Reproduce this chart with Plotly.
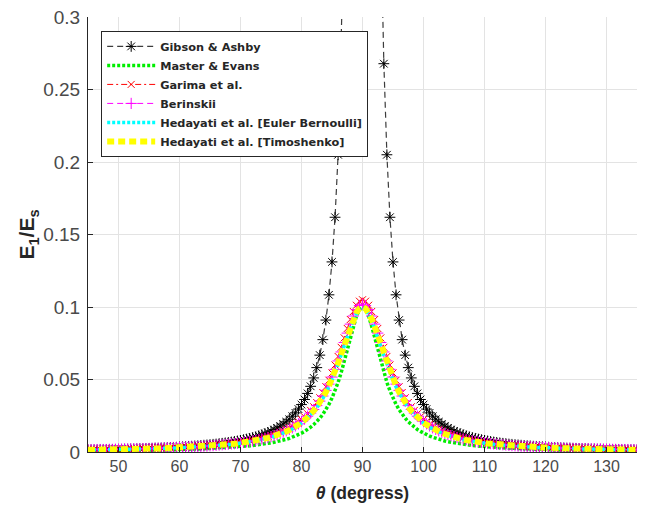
import plotly.graph_objects as go

# --- x grid: theta in degrees, 0.5 deg step from 45 to 135 ---
theta = [45 + 0.5 * i for i in range(181)]

# --- curves, 45..90 deg (they are symmetric about 90) ---
gibson_ashby = [
    0.0014, 0.0015, 0.0015, 0.0015, 0.0016, 0.0016, 0.0017, 0.0017, 0.0018, 0.0018,
    0.0019, 0.0019, 0.0020, 0.0020, 0.0021, 0.0021, 0.0022, 0.0023, 0.0023, 0.0024,
    0.0025, 0.0026, 0.0027, 0.0027, 0.0028, 0.0029, 0.0030, 0.0031, 0.0032, 0.0033,
    0.0035, 0.0036, 0.0037, 0.0039, 0.0040, 0.0042, 0.0043, 0.0045, 0.0047, 0.0049,
    0.0051, 0.0053, 0.0055, 0.0058, 0.0060, 0.0063, 0.0066, 0.0069, 0.0073, 0.0076,
    0.0080, 0.0085, 0.0089, 0.0094, 0.0100, 0.0105, 0.0112, 0.0119, 0.0127, 0.0135,
    0.0144, 0.0154, 0.0166, 0.0178, 0.0193, 0.0208, 0.0226, 0.0247, 0.0270, 0.0296,
    0.0327, 0.0362, 0.0404, 0.0453, 0.0511, 0.0582, 0.0668, 0.0775, 0.0910, 0.1084,
    0.1311, 0.1619, 0.2050, 0.2678, 0.3646, 0.525, 0.8205, 1.459, 3.283, 13.12,
    None,
]
master_evans = [
    0.0009, 0.0009, 0.0009, 0.0009, 0.0010, 0.0010, 0.0010, 0.0010, 0.0010, 0.0011,
    0.0011, 0.0011, 0.0011, 0.0011, 0.0012, 0.0012, 0.0012, 0.0013, 0.0013, 0.0013,
    0.0013, 0.0014, 0.0014, 0.0015, 0.0015, 0.0015, 0.0016, 0.0016, 0.0017, 0.0017,
    0.0018, 0.0018, 0.0019, 0.0019, 0.0020, 0.0021, 0.0021, 0.0022, 0.0023, 0.0024,
    0.0025, 0.0026, 0.0026, 0.0028, 0.0029, 0.0030, 0.0031, 0.0032, 0.0034, 0.0035,
    0.0037, 0.0039, 0.0041, 0.0043, 0.0045, 0.0047, 0.0050, 0.0053, 0.0056, 0.0059,
    0.0063, 0.0067, 0.0071, 0.0076, 0.0082, 0.0088, 0.0094, 0.0102, 0.0110, 0.0119,
    0.0130, 0.0142, 0.0155, 0.0171, 0.0189, 0.0209, 0.0233, 0.0260, 0.0292, 0.0329,
    0.0372, 0.0422, 0.0480, 0.0547, 0.0622, 0.0703, 0.0787, 0.0868, 0.0937, 0.0983,
    0.1000,
]
garima = [
    0.0017, 0.0017, 0.0018, 0.0018, 0.0018, 0.0019, 0.0019, 0.0019, 0.0020, 0.0020,
    0.0020, 0.0021, 0.0021, 0.0022, 0.0022, 0.0023, 0.0023, 0.0024, 0.0024, 0.0025,
    0.0026, 0.0026, 0.0027, 0.0028, 0.0028, 0.0029, 0.0030, 0.0031, 0.0031, 0.0032,
    0.0033, 0.0034, 0.0035, 0.0037, 0.0038, 0.0039, 0.0040, 0.0042, 0.0043, 0.0044,
    0.0046, 0.0048, 0.0050, 0.0051, 0.0054, 0.0056, 0.0058, 0.0060, 0.0063, 0.0066,
    0.0069, 0.0072, 0.0075, 0.0079, 0.0083, 0.0087, 0.0092, 0.0097, 0.0102, 0.0108,
    0.0115, 0.0121, 0.0129, 0.0137, 0.0146, 0.0156, 0.0167, 0.0180, 0.0193, 0.0208,
    0.0224, 0.0243, 0.0264, 0.0287, 0.0312, 0.0341, 0.0374, 0.0410, 0.0450, 0.0495,
    0.0545, 0.0600, 0.0659, 0.0722, 0.0787, 0.0852, 0.0914, 0.0969, 0.1012, 0.1040,
    0.1050,
]
berinskii = [
    0.0016, 0.0016, 0.0016, 0.0017, 0.0017, 0.0017, 0.0017, 0.0018, 0.0018, 0.0019,
    0.0019, 0.0019, 0.0020, 0.0020, 0.0021, 0.0021, 0.0022, 0.0022, 0.0023, 0.0023,
    0.0024, 0.0024, 0.0025, 0.0025, 0.0026, 0.0027, 0.0028, 0.0028, 0.0029, 0.0030,
    0.0031, 0.0032, 0.0033, 0.0034, 0.0035, 0.0036, 0.0037, 0.0038, 0.0040, 0.0041,
    0.0043, 0.0044, 0.0046, 0.0048, 0.0050, 0.0052, 0.0054, 0.0056, 0.0058, 0.0061,
    0.0064, 0.0067, 0.0070, 0.0073, 0.0077, 0.0081, 0.0085, 0.0090, 0.0095, 0.0100,
    0.0106, 0.0113, 0.0120, 0.0128, 0.0136, 0.0146, 0.0156, 0.0167, 0.0180, 0.0194,
    0.0210, 0.0227, 0.0247, 0.0268, 0.0293, 0.0320, 0.0351, 0.0386, 0.0425, 0.0468,
    0.0517, 0.0570, 0.0628, 0.0690, 0.0755, 0.0820, 0.0882, 0.0938, 0.0982, 0.1010,
    0.1020,
]
hedayati_eb = [
    0.0015, 0.0015, 0.0015, 0.0016, 0.0016, 0.0016, 0.0017, 0.0017, 0.0017, 0.0018,
    0.0018, 0.0018, 0.0019, 0.0019, 0.0019, 0.0020, 0.0020, 0.0021, 0.0021, 0.0022,
    0.0022, 0.0023, 0.0023, 0.0024, 0.0025, 0.0025, 0.0026, 0.0027, 0.0028, 0.0028,
    0.0029, 0.0030, 0.0031, 0.0032, 0.0033, 0.0034, 0.0035, 0.0036, 0.0038, 0.0039,
    0.0040, 0.0042, 0.0043, 0.0045, 0.0047, 0.0049, 0.0051, 0.0053, 0.0055, 0.0058,
    0.0060, 0.0063, 0.0066, 0.0069, 0.0073, 0.0077, 0.0081, 0.0085, 0.0090, 0.0095,
    0.0101, 0.0107, 0.0114, 0.0121, 0.0129, 0.0138, 0.0148, 0.0159, 0.0171, 0.0184,
    0.0199, 0.0216, 0.0235, 0.0256, 0.0279, 0.0305, 0.0335, 0.0369, 0.0406, 0.0448,
    0.0495, 0.0547, 0.0604, 0.0664, 0.0728, 0.0792, 0.0853, 0.0908, 0.0952, 0.0980,
    0.0990,
]
hedayati_timo = [
    0.0015, 0.0015, 0.0016, 0.0016, 0.0016, 0.0017, 0.0017, 0.0017, 0.0018, 0.0018,
    0.0018, 0.0019, 0.0019, 0.0019, 0.0020, 0.0020, 0.0021, 0.0021, 0.0022, 0.0022,
    0.0023, 0.0023, 0.0024, 0.0025, 0.0025, 0.0026, 0.0027, 0.0027, 0.0028, 0.0029,
    0.0030, 0.0031, 0.0032, 0.0033, 0.0034, 0.0035, 0.0036, 0.0037, 0.0039, 0.0040,
    0.0041, 0.0043, 0.0044, 0.0046, 0.0048, 0.0050, 0.0052, 0.0054, 0.0057, 0.0059,
    0.0062, 0.0065, 0.0068, 0.0071, 0.0075, 0.0078, 0.0083, 0.0087, 0.0092, 0.0097,
    0.0103, 0.0109, 0.0116, 0.0124, 0.0132, 0.0141, 0.0151, 0.0162, 0.0175, 0.0188,
    0.0203, 0.0220, 0.0239, 0.0261, 0.0284, 0.0311, 0.0341, 0.0375, 0.0413, 0.0456,
    0.0503, 0.0556, 0.0613, 0.0674, 0.0738, 0.0802, 0.0863, 0.0918, 0.0962, 0.0990,
    0.1000,
]

x_ticks = [50, 60, 70, 80, 90, 100, 110, 120, 130]


def mirror(half):
    # 45..90 -> 45..135
    return half + half[-2::-1]


# --- series styles (matlab-ish) ---
series = [
    ("Gibson & Ashby", gibson_ashby, "#3c3c3c", 1.2, "6px,4px", "asterisk-open", 9, "black"),
    ("Master & Evans", master_evans, "#00ee00", 3.5, "3px,2px", None, 0, None),
    ("Garima et al.", garima, "#ff0000", 1, "6px,3px,2px,3px", "x-thin-open", 7, "#ff0000"),
    ("Berinskii", berinskii, "#ff00ff", 1, "6px,4px", "cross-thin-open", 8, "#ff00ff"),
    ("Hedayati et al. [Euler Bernoulli]", hedayati_eb, "#00ffff", 3.5, "3px,2px", None, 0, None),
    ("Hedayati et al. [Timoshenko]", hedayati_timo, "#ffff00", 6, "7px,4px", None, 0, None),
]

fig = go.Figure()
for name, half, color, width, dash, symbol, msize, mcolor in series:
    tr = dict(
        x=theta, y=mirror(half), name=name,
        line=dict(color=color, width=width, dash=dash),
        mode="lines",
    )
    if symbol:
        tr["mode"] = "lines+markers"
        tr["marker"] = dict(symbol=symbol, size=msize, color=mcolor,
                            line=dict(color=mcolor, width=1))
    fig.add_trace(go.Scatter(**tr))

FONT = "Liberation Sans, Arial"

# page body has an 8px offset, margins compensate for it
fig.update_layout(
    width=658, height=506,
    margin=dict(l=80, r=29, t=9, b=62),
    paper_bgcolor="white", plot_bgcolor="white",
    showlegend=True,
    hovermode=False,
    legend=dict(
        x=0.024, y=0.968, xanchor="left", yanchor="top",
        bgcolor="white", bordercolor="#262626", borderwidth=1,
        font=dict(family="DejaVu Sans", size=11.3, color="#262626", weight="bold"),
        tracegroupgap=0, itemwidth=48,
    ),
)
fig.update_xaxes(
    range=[45, 135], tickvals=x_ticks, automargin=False,
    showgrid=True, gridcolor="#e3e3e3", gridwidth=1,
    showline=True, linecolor="#262626", linewidth=1,
    ticks="inside", ticklen=5, tickcolor="#262626",
    tickfont=dict(family=FONT, size=16, color="#4a4a4a"), zeroline=False,
    ticklabeloverflow="allow",
    title=dict(text="<b><i>θ</i> (degress)</b>", standoff=12,
               font=dict(family=FONT, size=17.5, color="#262626")),
)
fig.update_yaxes(
    range=[0, 0.3], dtick=0.05, automargin=False,
    showgrid=True, gridcolor="#e3e3e3", gridwidth=1,
    showline=True, linecolor="#262626", linewidth=1,
    ticks="inside", ticklen=5, tickcolor="#262626", ticklabelstandoff=3,
    tickfont=dict(family=FONT, size=19, color="#4a4a4a"), zeroline=False,
    ticklabeloverflow="allow",
    title=dict(text="<b>E<sub>1</sub>/E<sub>s</sub></b>", standoff=2,
               font=dict(family=FONT, size=21, color="#262626")),
)

fig.write_html("out.html")
